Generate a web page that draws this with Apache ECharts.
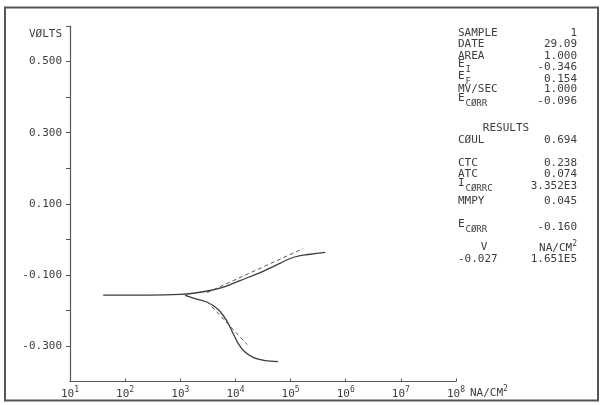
<!DOCTYPE html>
<html>
<head>
<meta charset="utf-8">
<script src="https://cdn.jsdelivr.net/npm/echarts@6/dist/echarts.min.js"></script>
<style>
html,body{margin:0;padding:0;background:#fff;}
#c{width:603px;height:405px;}
</style>
</head>
<body>
<div id="c"></div>
<script>
// ---- data (current density in NA/CM², potential in volts) ----
const anodicI = [40, 283, 990, 1860, 3475, 6500, 12170, 28050, 52500, 98400, 149300, 227000, 425000];
const anodicV = [-0.157, -0.157, -0.155, -0.151, -0.144, -0.133, -0.116, -0.094, -0.074, -0.054, -0.046, -0.042, -0.037];
const cathodicI = [1222, 1860, 2820, 3940, 5270, 7060, 9080, 11190, 14380, 20950, 34600, 59600];
const cathodicV = [-0.158, -0.167, -0.175, -0.186, -0.203, -0.231, -0.265, -0.293, -0.315, -0.332, -0.341, -0.344];
const tafelAnodicI = [3060, 169000];
const tafelAnodicV = [-0.150, -0.026];
const tafelCathodicI = [3060, 16300];
const tafelCathodicV = [-0.175, -0.296];

const voltTickValues = [-0.3, -0.2, -0.1, 0.0, 0.1, 0.2, 0.3, 0.4, 0.5, 0.6];
const voltLabelValues = [-0.3, -0.1, 0.1, 0.3, 0.5];
const voltLabelText = ['-0.300', '-0.100', '0.100', '0.300', '0.500'];
const yAxisTitle = 'VØLTS';
const currentUnit = 'NA/CM';

const panelLabels = ['SAMPLE', 'DATE', 'AREA', 'E', 'E', 'MV/SEC', 'E', 'CØUL', 'CTC', 'ATC', 'I', 'MMPY', 'E'];
const panelSubs   = ['', '', '', 'I', 'F', '', 'CØRR', '', '', '', 'CØRRC', '', 'CØRR'];
const panelValues = ['1', '29.09', '1.000', '-0.346', '0.154', '1.000', '-0.096', '0.694', '0.238', '0.074', '3.352E3', '0.045', '-0.160'];
const resultsTitle = 'RESULTS';
const readoutV = '-0.027';
const readoutI = '1.651E5';

// ---- layout ----
const FONT = '"DejaVu Sans Mono", monospace';
const INK = '#3d3d3d';
const panelRowY = [33, 44.5, 56, 64, 76, 89, 98, 140, 163, 174, 183, 201, 224];
const LX = 458, RX = 577;

const pair = (a, b) => a.map((v, i) => [v, b[i]]);

const chart = echarts.init(document.getElementById('c'), null, {renderer: 'canvas'});

const graphics = [];
graphics.push({type: 'rect', shape: {x: 5, y: 7.5, width: 593, height: 393}, style: {fill: 'none', stroke: '#555', lineWidth: 2}, z: 10});
graphics.push({type: 'text', x: 62, y: 34, style: {text: yAxisTitle, font: '11px ' + FONT, fill: INK, align: 'right', verticalAlign: 'middle'}});
graphics.push({type: 'text', x: 470, y: 392, style: {
  text: '{u|' + currentUnit + '}{s|2}',
  rich: {u: {font: '11px ' + FONT, fill: INK, lineHeight: 14, verticalAlign: 'bottom'},
         s: {font: '8px ' + FONT, fill: INK, lineHeight: 8, verticalAlign: 'top'}},
  align: 'left', verticalAlign: 'middle'}});
panelLabels.forEach((lab, i) => {
  const y = panelRowY[i];
  graphics.push({type: 'text', x: LX, y: y, style: {text: lab, font: '11px ' + FONT, fill: INK, align: 'left', verticalAlign: 'middle'}});
  if (panelSubs[i]) {
    graphics.push({type: 'text', x: LX + 7.5, y: y + 6, style: {text: panelSubs[i], font: '9px ' + FONT, fill: INK, align: 'left', verticalAlign: 'middle'}});
  }
  const vy = panelSubs[i] ? y + 3 : y;
  graphics.push({type: 'text', x: RX, y: vy, style: {text: panelValues[i], font: '11px ' + FONT, fill: INK, align: 'right', verticalAlign: 'middle'}});
});
graphics.push({type: 'text', x: 506, y: 128, style: {text: resultsTitle, font: '11px ' + FONT, fill: INK, align: 'center', verticalAlign: 'middle'}});
graphics.push({type: 'text', x: 484, y: 247, style: {text: 'V', font: '11px ' + FONT, fill: INK, align: 'center', verticalAlign: 'middle'}});
graphics.push({type: 'text', x: RX, y: 247, style: {
  text: '{u|' + currentUnit + '}{s|2}',
  rich: {u: {font: '11px ' + FONT, fill: INK, lineHeight: 14, verticalAlign: 'bottom'},
         s: {font: '8px ' + FONT, fill: INK, lineHeight: 8, verticalAlign: 'top'}},
  align: 'right', verticalAlign: 'middle'}});
graphics.push({type: 'text', x: LX, y: 259, style: {text: readoutV, font: '11px ' + FONT, fill: INK, align: 'left', verticalAlign: 'middle'}});
graphics.push({type: 'text', x: RX, y: 259, style: {text: readoutI, font: '11px ' + FONT, fill: INK, align: 'right', verticalAlign: 'middle'}});

const lineStyleSolid = {color: INK, width: 1.3};
const lineStyleDash = {color: '#555', width: 1, type: [4, 3]};

chart.setOption({
  backgroundColor: '#fff',
  animation: false,
  grid: {left: 70, right: 147, top: 26, bottom: 23.5, containLabel: false},
  xAxis: {
    type: 'log', logBase: 10, min: 10, max: 1e8,
    axisLine: {show: true, onZero: false, lineStyle: {color: '#555', width: 1.2}},
    axisTick: {show: true, inside: true, length: 3, lineStyle: {color: '#555'}},
    minorTick: {show: false},
    splitLine: {show: false},
    axisLabel: {
      margin: 4,
      formatter: v => '{b|10}{s|' + Math.round(Math.log10(v)) + '}',
      rich: {b: {fontFamily: FONT, fontSize: 11, color: INK, lineHeight: 14, verticalAlign: 'bottom'},
             s: {fontFamily: FONT, fontSize: 8, color: INK, lineHeight: 8, verticalAlign: 'top'}}
    }
  },
  yAxis: {
    type: 'value', min: -0.4, max: 0.6, interval: 0.1,
    axisLine: {show: true, onZero: false, lineStyle: {color: '#555', width: 1.2}},
    axisTick: {show: true, length: 4, customValues: voltTickValues, lineStyle: {color: '#555'}},
    splitLine: {show: false},
    axisLabel: {
      margin: 8, fontFamily: FONT, fontSize: 11, color: INK,
      customValues: voltLabelValues,
      formatter: v => {
        const i = voltLabelValues.findIndex(t => Math.abs(t - v) < 1e-6);
        return i >= 0 ? voltLabelText[i] : '';
      }
    }
  },
  series: [
    {type: 'line', data: pair(anodicI, anodicV), showSymbol: false, smooth: 0.3, lineStyle: lineStyleSolid},
    {type: 'line', data: pair(cathodicI, cathodicV), showSymbol: false, smooth: 0.3, lineStyle: lineStyleSolid},
    {type: 'line', data: pair(tafelAnodicI, tafelAnodicV), showSymbol: false, lineStyle: lineStyleDash},
    {type: 'line', data: pair(tafelCathodicI, tafelCathodicV), showSymbol: false, lineStyle: lineStyleDash}
  ],
  graphic: graphics
});
</script>
</body>
</html>
